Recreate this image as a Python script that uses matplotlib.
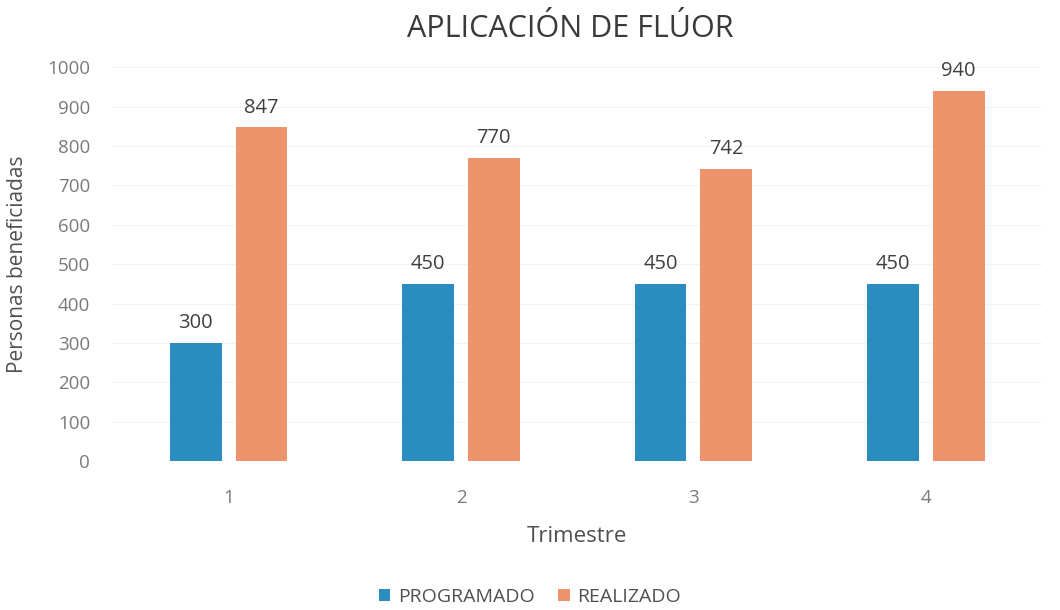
import numpy as np
import matplotlib
matplotlib.use("Agg")
import matplotlib.pyplot as plt

trimestres = ["1", "2", "3", "4"]
programado = [300, 450, 450, 450]
realizado = [847, 770, 742, 940]
series_names = ["PROGRAMADO", "REALIZADO"]
y_ticks = [0, 100, 200, 300, 400, 500, 600, 700, 800, 900, 1000]

plt.rcParams['font.family'] = ['Open Sans', 'DejaVu Sans']
text_color = "#505050"
blue = "#2b8cc0"
orange = "#ee946c"

fig = plt.figure(figsize=(10.6, 6.1), dpi=100)
ax = fig.add_axes([0.106, 0.244, 0.877, 0.646])

x = np.arange(len(trimestres))
w = 0.223
gap = 0.06
off = (w + gap) / 2
b1 = ax.bar(x - off, programado, w, color=blue, label=series_names[0], zorder=3)
b2 = ax.bar(x + off, realizado, w, color=orange, label=series_names[1], zorder=3)

for bars in (b1, b2):
    for r in bars:
        ax.text(r.get_x() + r.get_width() / 2, r.get_height() + 24, f"{int(r.get_height())}",
                ha="center", va="bottom", fontsize=14.5, color="#404040")

ax.set_xlim(-0.5, len(trimestres) - 0.5)
ax.set_ylim(0, 1000)
ax.set_yticks(y_ticks)
ax.set_xticks(x)
ax.set_xticklabels(trimestres)
ax.tick_params(axis="both", length=0, labelsize=13.5, colors="#7a7a7a")
ax.tick_params(axis="x", pad=20)
ax.tick_params(axis="y", pad=16)
ax.grid(axis="y", color="#f3f3f3", linewidth=0.8, zorder=0)
for s in ax.spines.values():
    s.set_visible(False)

ax.set_ylabel("Personas beneficiadas", fontsize=15, color=text_color, labelpad=14)
ax.set_xlabel("Trimestre", fontsize=16, color=text_color, labelpad=14)
fig.text(0.538, 0.952, "APLICACIÓN DE FLÚOR", ha="center", va="center", fontsize=22, color="#3a3a3a")

fig.legend(handles=[b1, b2], labels=series_names, loc="center", bbox_to_anchor=(0.5, 0.022),
           ncol=2, frameon=False, fontsize=14, handlelength=0.6, handleheight=0.6,
           columnspacing=1.2, handletextpad=0.4, labelcolor=text_color)

fig.savefig("out.png", dpi=100)
